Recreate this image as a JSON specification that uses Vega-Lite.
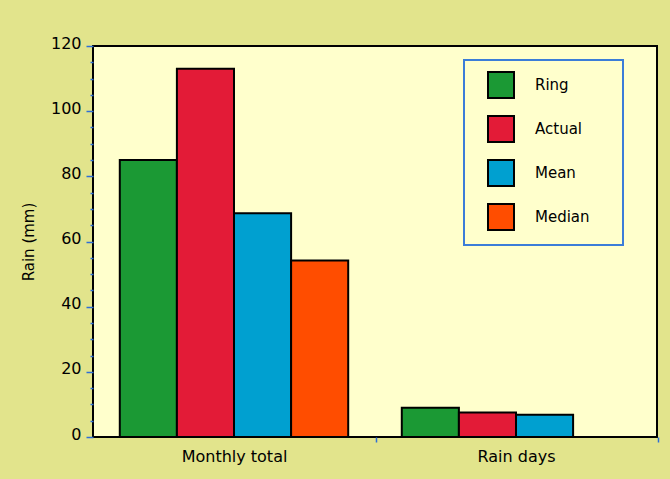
{
  "$schema": "https://vega.github.io/schema/vega-lite/v6.json",
  "width": 564,
  "height": 391,
  "autosize": {"type": "none"},
  "padding": {"left": 93, "top": 46, "right": 13, "bottom": 42},
  "background": "#e2e48c",
  "config": {
    "font": "DejaVu Sans",
    "view": {"fill": "#ffffcc", "stroke": "#000000", "strokeWidth": 2}
  },
  "data": {
    "values": [
      {"measure": "Monthly total", "series": "Ring", "rain": 85},
      {"measure": "Monthly total", "series": "Actual", "rain": 113},
      {"measure": "Monthly total", "series": "Mean", "rain": 68.7},
      {"measure": "Monthly total", "series": "Median", "rain": 54.2},
      {"measure": "Rain days", "series": "Ring", "rain": 9},
      {"measure": "Rain days", "series": "Actual", "rain": 7.5},
      {"measure": "Rain days", "series": "Mean", "rain": 6.8}
    ]
  },
  "mark": {"type": "bar", "stroke": "#000000", "strokeWidth": 2},
  "encoding": {
    "x": {
      "field": "measure",
      "type": "nominal",
      "sort": ["Monthly total", "Rain days"],
      "scale": {"paddingInner": 0.19, "paddingOuter": 0.095},
      "axis": {
        "title": null,
        "labelAngle": 0,
        "labelFontSize": 16,
        "labelColor": "#000000",
        "labelPadding": 6,
        "tickOffset": 141.5,
        "labelOffset": -141.5,
        "tickColor": "#2f6fd6",
        "tickSize": 5,
        "tickWidth": 1.5,
        "domain": false,
        "grid": false
      }
    },
    "xOffset": {
      "field": "series",
      "type": "nominal",
      "scale": {"domain": ["Ring", "Actual", "Mean", "Median"], "paddingInner": 0, "paddingOuter": 0}
    },
    "y": {
      "field": "rain",
      "type": "quantitative",
      "scale": {"domain": [0, 120], "nice": false},
      "axis": {
        "title": "Rain (mm)",
        "titleFontSize": 15,
        "titleFontWeight": "normal",
        "titleColor": "#000000",
        "titlePadding": 14,
        "values": [0, 5, 10, 15, 20, 25, 30, 35, 40, 45, 50, 55, 60, 65, 70, 75, 80, 85, 90, 95, 100, 105, 110, 115, 120],
        "labelExpr": "datum.value % 20 === 0 ? datum.label : ''",
        "labelOverlap": false,
        "labelFontSize": 16,
        "labelColor": "#000000",
        "labelPadding": 5,
        "labelOffset": -3,
        "tickColor": "#2f6fd6",
        "tickWidth": 1.5,
        "tickSize": {"condition": {"test": "datum.value % 20 === 0", "value": 7}, "value": 3},
        "domain": false,
        "grid": false
      }
    },
    "color": {
      "field": "series",
      "type": "nominal",
      "scale": {
        "domain": ["Ring", "Actual", "Mean", "Median"],
        "range": ["#1b9934", "#e31b37", "#00a0d0", "#ff4d00"]
      },
      "legend": {
        "orient": "none",
        "legendX": 371,
        "legendY": 14,
        "title": "\u00a0",
        "titleOrient": "right",
        "titlePadding": 22,
        "titleFontSize": 6,
        "fillColor": "#ffffcc",
        "strokeColor": "#3b7dd8",
        "padding": 11,
        "symbolOffset": 12,
        "symbolType": "square",
        "symbolSize": 676,
        "symbolStrokeColor": "#000000",
        "symbolStrokeWidth": 2,
        "symbolOpacity": 1,
        "rowPadding": 10,
        "labelFontSize": 15,
        "labelColor": "#000000",
        "labelOffset": 20,
        "encode": {"legend": {"update": {"strokeWidth": {"value": 2}}}}
      }
    }
  }
}
